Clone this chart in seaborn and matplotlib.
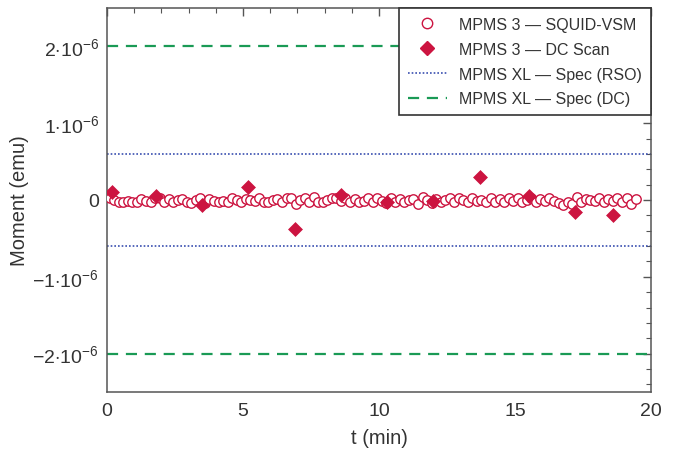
import numpy as np
import pandas as pd
import matplotlib
matplotlib.use("Agg")
import matplotlib.pyplot as plt
import seaborn as sns
from matplotlib.ticker import MultipleLocator, FixedLocator, FixedFormatter
from matplotlib.lines import Line2D

# ---- data (moment in units of 1e-6 emu) ----
vsm_t0 = 0.1          # first sample (min)
vsm_dt = 1.0 / 6.0    # one sample every 10 s
vsm_moment = [
    0.02, 0.00, -0.03, -0.02, -0.01, -0.03, -0.02, 0.01, -0.01, -0.03,
    0.02, 0.03, -0.02, 0.01, -0.02, 0.00, 0.01, -0.02, -0.04, 0.00,
    0.02, -0.04, 0.01, -0.01, -0.03, -0.01, -0.02, 0.02, 0.00, -0.03,
    0.01, 0.00, -0.01, 0.02, -0.02, -0.03, 0.00, 0.01, -0.03, 0.02,
    0.03, -0.05, 0.00, 0.02, -0.03, 0.04, -0.02, -0.03, 0.00, 0.03,
    0.02, -0.01, 0.02, -0.02, 0.01, -0.03, -0.01, 0.02, -0.02, 0.03,
    -0.01, -0.04, 0.02, -0.03, 0.01, -0.02, 0.00, 0.01, -0.05, 0.04,
    0.00, -0.04, 0.01, -0.02, 0.00, 0.03, -0.02, 0.03, 0.00, -0.03,
    0.02, -0.01, 0.00, -0.03, 0.03, -0.02, 0.01, -0.02, 0.03, -0.01,
    0.02, -0.02, 0.00, 0.03, -0.02, 0.01, -0.01, 0.02, -0.01, -0.04,
    -0.06, -0.03, -0.05, 0.04, -0.03, 0.01, 0.00, -0.01, 0.02, -0.02,
    0.01, -0.01, 0.02, -0.03, 0.03, -0.05, 0.01,
]
vsm_t = vsm_t0 + vsm_dt * np.arange(len(vsm_moment))

dc_t = [0.2, 1.8, 3.5, 5.2, 6.9, 8.6, 10.3, 12.0, 13.7, 15.5, 17.2, 18.6]
dc_moment = [0.10, 0.05, -0.07, 0.17, -0.38, 0.06, -0.03, -0.01, 0.30, 0.05, -0.15, -0.19]

spec_rso = [0.6, -0.6]
spec_dc = [2.0, -2.0]

labels = ["MPMS 3 — SQUID-VSM", "MPMS 3 — DC Scan",
          "MPMS XL — Spec (RSO)", "MPMS XL — Spec (DC)"]
ytick_vals = [-2, -1, 0, 1, 2]
ytick_labels = [r"$-2{\cdot}10^{-6}$", r"$-1{\cdot}10^{-6}$", "0",
                r"$1{\cdot}10^{-6}$", r"$2{\cdot}10^{-6}$"]
xtick_vals = [0, 5, 10, 15, 20]

scale = 1e-6
df_vsm = pd.DataFrame({"t": vsm_t, "m": np.array(vsm_moment) * scale})
df_dc = pd.DataFrame({"t": dc_t, "m": np.array(dc_moment) * scale})

# ---- style ----
sns.set_style("white")
plt.rcParams["font.family"] = ["Liberation Sans", "DejaVu Sans"]
plt.rcParams["mathtext.fontset"] = "custom"
plt.rcParams["mathtext.rm"] = "Liberation Sans"
plt.rcParams["mathtext.it"] = "Liberation Sans:italic"
plt.rcParams["mathtext.default"] = "rm"

red = "#cc1440"
blue = "#3a4fb0"
green = "#1a9a55"
txt = "#333333"
spine = "#555555"

fig = plt.figure(figsize=(6.76, 4.52), dpi=100)
ax = fig.add_axes([107 / 676, 1 - 393 / 452, (651 - 107) / 676, (393 - 9) / 452])

for v in spec_rso:
    ax.axhline(v * scale, color=blue, lw=1.2, ls=(0, (1, 1.2)), zorder=1)
for v in spec_dc:
    ax.axhline(v * scale, color=green, lw=1.6, ls=(0, (5, 3.5)), zorder=1)

sns.scatterplot(data=df_vsm, x="t", y="m", ax=ax, marker="o", s=46,
                facecolor="white", edgecolor=red, linewidth=1.0, zorder=3)
sns.scatterplot(data=df_dc, x="t", y="m", ax=ax, marker="D", s=50,
                color=red, edgecolor=red, linewidth=0.5, zorder=4)

ax.set_xlim(0, 20)
ax.set_ylim(-2.5 * scale, 2.5 * scale)
ax.xaxis.set_major_locator(FixedLocator(xtick_vals))
ax.xaxis.set_minor_locator(MultipleLocator(1))
ax.yaxis.set_major_locator(FixedLocator([v * scale for v in ytick_vals]))
ax.yaxis.set_major_formatter(FixedFormatter(ytick_labels))
ax.yaxis.set_minor_locator(MultipleLocator(0.2 * scale))
ax.tick_params(which="both", direction="in", top=True, right=True,
               colors=spine, labelcolor=txt, labelsize=14)
ax.tick_params(which="major", length=6, width=1)
ax.tick_params(which="minor", length=3.5, width=0.8)
ax.tick_params(axis="x", pad=7)
ax.tick_params(axis="y", pad=6)
for s in ax.spines.values():
    s.set_color(spine)
    s.set_linewidth(1.1)

ax.set_xlabel("t (min)", fontsize=14.5, color=txt, labelpad=7)
ax.set_ylabel("Moment (emu)", fontsize=14.5, color=txt, labelpad=2)

handles = [
    Line2D([], [], ls="none", marker="o", markersize=7.5, markerfacecolor="white",
           markeredgecolor=red, markeredgewidth=1.0),
    Line2D([], [], ls="none", marker="D", markersize=7.5, color=red),
    Line2D([], [], color=blue, lw=1.2, ls=(0, (1, 1.2))),
    Line2D([], [], color=green, lw=1.6, ls=(0, (5, 3.5))),
]
leg = ax.legend(handles, labels, loc="upper right", bbox_to_anchor=(1.0, 1.0),
                borderaxespad=0, fancybox=False, framealpha=1, fontsize=11.5,
                handlelength=2.4, handletextpad=0.8, labelspacing=0.62,
                borderpad=0.55)
leg.get_frame().set_edgecolor("#333333")
leg.get_frame().set_linewidth(1.2)
for t in leg.get_texts():
    t.set_color(txt)

fig.savefig("out.png", dpi=100)
